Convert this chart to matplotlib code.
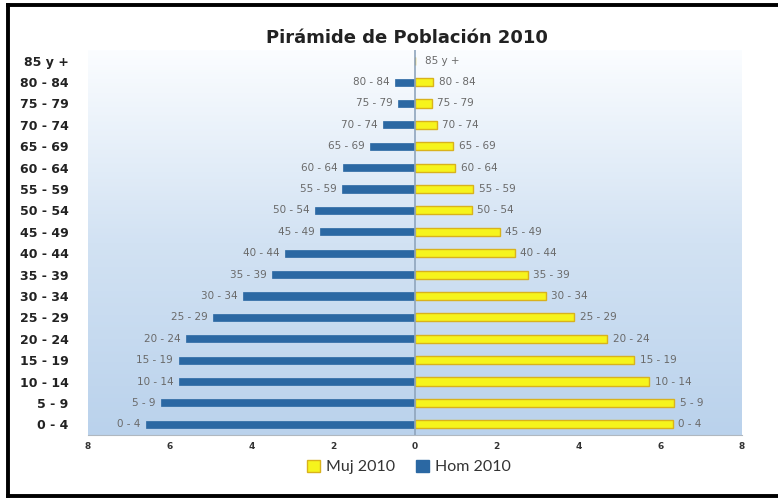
import matplotlib
matplotlib.use("Agg")
import matplotlib.pyplot as plt
import numpy as np
from matplotlib.patches import Patch
from matplotlib.lines import Line2D
from matplotlib.colors import LinearSegmentedColormap

categories = ["0 - 4", "5 - 9", "10 - 14", "15 - 19", "20 - 24", "25 - 29", "30 - 34",
              "35 - 39", "40 - 44", "45 - 49", "50 - 54", "55 - 59", "60 - 64", "65 - 69",
              "70 - 74", "75 - 79", "80 - 84", "85 y +"]
hom_2010 = [6.59, 6.22, 5.78, 5.78, 5.6, 4.93, 4.2, 3.5, 3.17, 2.32, 2.44, 1.78, 1.76, 1.1,
            0.78, 0.41, 0.49, 0.0]
muj_2010 = [6.3, 6.34, 5.73, 5.37, 4.7, 3.9, 3.2, 2.76, 2.44, 2.07, 1.39, 1.42, 0.98, 0.93,
            0.53, 0.41, 0.44, 0.0]
xticks = [-8, -6, -4, -2, 0, 2, 4, 6, 8]

fig = plt.figure(figsize=(7.78, 5.0), dpi=100)
fig.patch.set_facecolor("white")

# outer frame: top, left, bottom (right edge cropped off like the reference)
x0, x1 = 8/778, 1.0
y0, y1 = 4/500, 1 - 5/500
for xs, ys in [((x0, x1), (y1, y1)), ((x0, x0), (y0, y1)), ((x0, x1), (y0, y0))]:
    fig.lines.append(Line2D(xs, ys, transform=fig.transFigure, color="black",
                            linewidth=2.8, solid_capstyle="projecting"))

ax = fig.add_axes([88/778, 65/500, 654/778, 385/500])
ax.set_xlim(-8, 8)
ax.set_ylim(-0.5, len(categories) - 0.5)

# gradient background
cmap = LinearSegmentedColormap.from_list("bg", ["#bad2ec", "#d2e2f3", "#fbfdff"])
grad = np.linspace(0, 1, 256).reshape(-1, 1)
ax.imshow(grad, extent=[-8, 8, -0.5, len(categories) - 0.5], origin="lower",
          aspect="auto", cmap=cmap, zorder=0)

y = np.arange(len(categories))
h = -np.array(hom_2010)
m = np.array(muj_2010)
ax.barh(y, h, height=0.33, color="#2b68a3", edgecolor="#2b68a3", linewidth=0.5, zorder=2)
ax.barh(y, m, height=0.38, color="#f6f41c", edgecolor="#d9b21c", linewidth=1.0, zorder=2)

ax.axvline(0, color="#8fa5bd", linewidth=1.2, zorder=3)

for yi, cat, hv, mv in zip(y, categories, h, m):
    if hv < 0:
        ax.annotate(cat, (hv, yi), xytext=(-4, 0), textcoords="offset points",
                    ha="right", va="center", fontsize=7.5, color="#6a6a6a")
    ax.annotate(cat, (mv, yi), xytext=(4 if mv > 0 else 7, 0), textcoords="offset points",
                ha="left", va="center", fontsize=7.5, color="#6a6a6a")

ax.set_yticks(y)
ax.set_yticklabels(categories, fontsize=9, fontweight="bold", color="#222222")
ax.tick_params(axis="y", length=0, pad=14)
ax.set_xticks(xticks)
ax.set_xticklabels([str(abs(t)) for t in xticks], fontsize=6.5, fontweight="bold",
                   color="#333333")
ax.tick_params(axis="x", length=0, pad=5)

for s in ["top", "right", "left"]:
    ax.spines[s].set_visible(False)
ax.spines["bottom"].set_color("#b0b8c0")

fig.text(407/778, 1 - 38/500, "Pirámide de Población 2010", ha="center", va="center",
         fontsize=13, fontweight="bold", color="#222222")

handles = [Patch(facecolor="#f6f41c", edgecolor="#d9b21c", label="Muj 2010"),
           Patch(facecolor="#2b68a3", edgecolor="#2b68a3", label="Hom 2010")]
fig.legend(handles=handles, loc="center", bbox_to_anchor=(409/778, 1 - 467/500), ncol=2,
           frameon=False, prop={"family": "Lato", "size": 11.5}, handlelength=0.8,
           handleheight=0.8, handletextpad=0.4, columnspacing=1.3, labelcolor="#333333")

fig.savefig("out.png", dpi=100)
